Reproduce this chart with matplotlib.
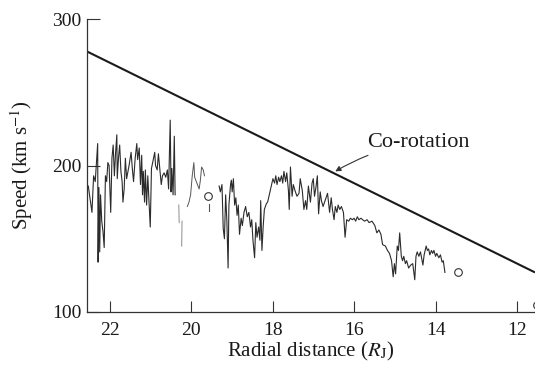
import matplotlib
matplotlib.use("Agg")
import matplotlib.pyplot as plt

plt.rcParams['font.family'] = ['Liberation Serif', 'DejaVu Serif']
plt.rcParams['mathtext.fontset'] = 'stix'

# ---- data ----
corot_r = [22.57, 11.57]
corot_v = [278, 127]

segA_r = [22.53, 22.50, 22.44, 22.40, 22.36, 22.30, 22.29, 22.27, 22.25, 22.23,
          22.20, 22.17, 22.14, 22.11, 22.08, 22.05, 22.02, 21.98, 21.95, 21.92,
          21.89, 21.86, 21.83, 21.82, 21.79, 21.76, 21.73, 21.70, 21.68, 21.65,
          21.62, 21.59, 21.53, 21.48, 21.45, 21.42, 21.38, 21.34, 21.32, 21.28,
          21.25, 21.22, 21.20, 21.18, 21.15, 21.13, 21.10, 21.07, 21.04, 21.01,
          20.98, 20.90, 20.88, 20.84, 20.81, 20.78, 20.74, 20.71, 20.67, 20.63,
          20.59, 20.56, 20.52, 20.50, 20.48, 20.45, 20.42, 20.40]
segA_v = [186, 180, 168, 193, 189, 215, 134, 185, 141, 180,
          162, 155, 144, 193, 189, 202, 200, 168, 205, 214,
          193, 209, 221, 191, 205, 214, 196, 189, 175, 184,
          205, 191, 200, 209, 198, 189, 205, 215, 204, 212,
          187, 207, 180, 196, 175, 197, 173, 193, 175, 158,
          198, 209, 200, 197, 208, 199, 187, 193, 195, 192,
          197, 184, 231, 182, 198, 180, 220, 180]

segB_r = [20.31, 20.30]
segB_v = [173, 161]
segC_r = [20.23, 20.24]
segC_v = [162, 145]

segD_r = [20.10, 20.06, 20.02, 19.98, 19.94, 19.92, 19.88, 19.81, 19.78, 19.75,
          19.71, 19.68]
segD_v = [172, 175, 180, 193, 202, 192, 189, 184, 190, 199,
          197, 193]

segT_r = [19.57, 19.57]
segT_v = [174, 169]

segE_r = [19.32, 19.29, 19.25, 19.22, 19.19, 19.16, 19.13, 19.10, 19.08, 19.04,
          19.02, 19.00, 18.97, 18.94, 18.91, 18.88, 18.85, 18.82, 18.78, 18.75,
          18.71, 18.67, 18.63, 18.59, 18.55, 18.52, 18.49, 18.45, 18.42, 18.39,
          18.35, 18.32, 18.30, 18.27, 18.24, 18.21, 18.16, 18.13,
          18.00, 17.96, 17.93, 17.90, 17.86, 17.83, 17.79, 17.76, 17.73, 17.69,
          17.66, 17.62, 17.60, 17.57, 17.53, 17.50, 17.46, 17.41, 17.36, 17.33,
          17.28, 17.24, 17.20, 17.17, 17.13, 17.08, 17.04, 17.01, 16.98, 16.94,
          16.91, 16.88, 16.84, 16.81, 16.77, 16.72, 16.66, 16.61, 16.57, 16.54,
          16.50, 16.47, 16.43, 16.40, 16.36, 16.32, 16.27, 16.23, 16.19, 16.14,
          16.10, 16.05, 16.01, 15.97, 15.93, 15.89, 15.84, 15.80, 15.75, 15.69,
          15.64, 15.57, 15.50, 15.45, 15.40, 15.35, 15.31, 15.24, 15.19, 15.14,
          15.09, 15.05, 15.02, 14.99, 14.95, 14.92, 14.89, 14.85, 14.82, 14.79,
          14.75, 14.72, 14.67, 14.62, 14.57, 14.52, 14.49, 14.46, 14.42, 14.38,
          14.32, 14.29, 14.24, 14.21, 14.18, 14.15, 14.11, 14.08, 14.05, 14.01,
          13.98, 13.93, 13.89, 13.85, 13.82, 13.78]
segE_v = [186, 182, 187, 157, 150, 180, 162, 130, 173, 187,
          190, 182, 191, 173, 178, 166, 173, 153, 164, 159,
          168, 172, 165, 168, 158, 163, 149, 137, 161, 151,
          158, 149, 176, 142, 158, 170, 174, 175,
          191, 188, 193, 187, 192, 189, 193, 188, 196, 189,
          195, 183, 170, 199, 179, 187, 183, 179, 181, 191,
          183, 170, 176, 170, 186, 175, 188, 191, 179, 186,
          193, 167, 182, 176, 172, 176, 181, 168, 178, 170,
          163, 172, 168, 173, 170, 172, 168, 151, 163, 162,
          164, 163, 164, 162, 165, 163, 164, 163, 162, 163,
          161, 162, 159, 154, 156, 153, 146, 145, 142, 140,
          135, 124, 133, 126, 145, 142, 154, 138, 135, 138,
          133, 135, 130, 132, 133, 122, 138, 141, 138, 141,
          132, 139, 145, 142, 143, 139, 142, 140, 142, 138,
          140, 137, 139, 134, 135, 127]

circle_r = [19.59, 13.45, 11.52]
circle_v = [179, 127, 105]

x_ticks = [22, 20, 18, 16, 14, 12]
y_ticks = [100, 200, 300]

# ---- figure ----
fig = plt.figure(figsize=(5.35, 3.67), dpi=100)
ax = fig.add_axes([0.162, 0.150, 0.838, 0.798])

ax.plot(corot_r, corot_v, color='#1a1a1a', lw=1.5, solid_capstyle='butt')

dark = '#2b2b2b'
ax.plot(segA_r, segA_v, color=dark, lw=0.8)
ax.plot(segB_r, segB_v, color='#9a9a9a', lw=0.8)
ax.plot(segC_r, segC_v, color='#9a9a9a', lw=0.8)
ax.plot(segD_r, segD_v, color='#555555', lw=0.7)
ax.plot(segT_r, segT_v, color='#555555', lw=0.8)
ax.plot(segE_r, segE_v, color=dark, lw=0.8)

ax.plot(circle_r, circle_v, linestyle='none', marker='o', markersize=5.5,
        markerfacecolor='none', markeredgecolor='#333333', markeredgewidth=0.8,
        clip_on=False)

ax.annotate('Co-rotation', xy=(16.47, 196), xytext=(15.68, 216),
            fontsize=16, va='center', ha='left', color='#1a1a1a',
            arrowprops=dict(arrowstyle='-|>', color='#333333', lw=0.8,
                            mutation_scale=8, shrinkA=2, shrinkB=0,
                            connectionstyle='arc3,rad=0.1'))

ax.set_xlim(22.57, 11.57)
ax.set_ylim(100, 300)
ax.set_xticks(x_ticks)
ax.set_yticks(y_ticks)
ax.set_xticklabels([str(t) for t in x_ticks])
ax.set_yticklabels([str(t) for t in y_ticks])

for s in ['top', 'right']:
    ax.spines[s].set_visible(False)
for s in ['left', 'bottom']:
    ax.spines[s].set_linewidth(0.9)
    ax.spines[s].set_color('#333333')

ax.tick_params(axis='x', direction='in', length=8, width=0.8, pad=7,
               labelsize=14, colors='#333333', labelcolor='#1a1a1a')
ax.tick_params(axis='y', direction='in', length=9, width=0.8, pad=4,
               labelsize=14, colors='#333333', labelcolor='#1a1a1a')

ax.set_xlabel(r'Radial distance ($R_{\mathrm{J}}$)', fontsize=15, labelpad=1,
              color='#1a1a1a')
ax.set_ylabel(r'Speed (km s$^{-1}$)', fontsize=15, labelpad=12, color='#1a1a1a')

fig.savefig('out.png', dpi=100)
